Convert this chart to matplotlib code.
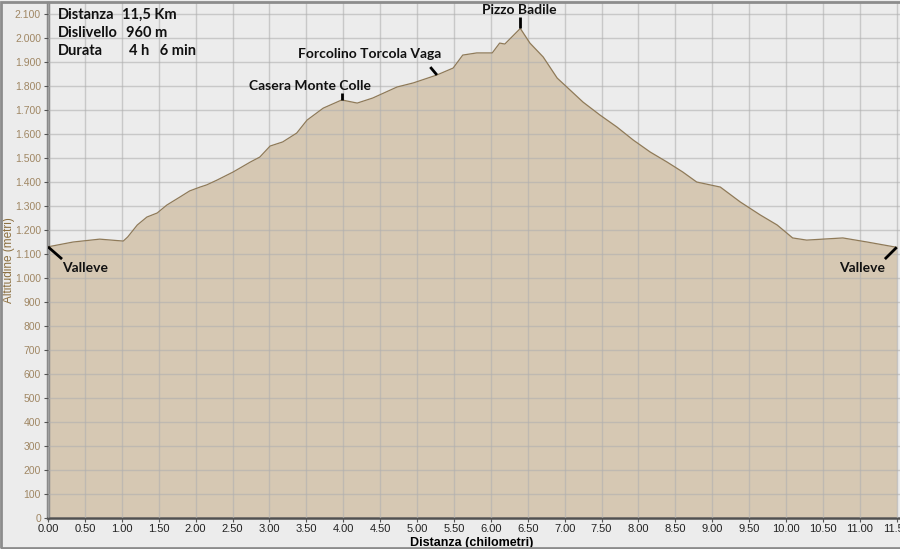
import numpy as np
import matplotlib
matplotlib.use("Agg")
import matplotlib.pyplot as plt
from matplotlib.ticker import FuncFormatter, MultipleLocator
from matplotlib.patches import Rectangle

# profile: distance (km) / altitude (m)
dist = [0.00, 0.34, 0.70, 1.02, 1.08, 1.21, 1.34, 1.48, 1.61, 1.79, 1.92, 2.06, 2.15,
        2.29, 2.51, 2.74, 2.87, 3.01, 3.18, 3.37, 3.51, 3.73, 3.98, 4.19, 4.40, 4.73,
        4.95, 5.27, 5.49, 5.62, 5.81, 6.02, 6.12, 6.19, 6.40, 6.53, 6.71, 6.90, 7.03,
        7.25, 7.48, 7.71, 7.93, 8.16, 8.39, 8.60, 8.79, 9.11, 9.38, 9.65, 9.88, 10.09,
        10.28, 10.77, 11.10, 11.50]
alt = [1130, 1150, 1162, 1154, 1171, 1221, 1254, 1271, 1304, 1338, 1363, 1379, 1388,
       1408, 1442, 1483, 1504, 1550, 1567, 1604, 1658, 1708, 1742, 1729, 1750, 1796,
       1813, 1846, 1875, 1929, 1938, 1938, 1979, 1975, 2040, 1979, 1921, 1833, 1796,
       1733, 1679, 1629, 1575, 1525, 1483, 1442, 1400, 1379, 1317, 1263, 1221, 1167,
       1158, 1167, 1150, 1128]

# landmarks: name, km, text position (km, m), leader start (km, m), alignment
places = ["Casera Monte Colle", "Forcolino Torcola Vaga", "Pizzo Badile", "Valleve", "Valleve"]
place_km = [3.98, 5.27, 6.40, 0.0, 11.5]
text_pos = [(3.55, 1800), (4.36, 1933), (6.385, 2117), (0.19, 1042), (11.34, 1042)]
lead_pos = [(3.98, 1771), (5.18, 1879), (6.40, 2088), (0.19, 1079), (11.34, 1079)]
text_ha = ["center", "center", "center", "left", "right"]

info_labels = ["Distanza", "Dislivello", "Durata"]
info_values = ["11,5 Km", "960 m", "4 h   6 min"]

W, H = 900, 549
fig = plt.figure(figsize=(W / 100, H / 100), dpi=100, facecolor="#ececec")
ax = fig.add_axes([48 / W, 31 / H, 852 / W, 515 / H])
ax.set_facecolor("#ececec")

ax.fill_between(dist, alt, 0, color="#d6c8b3", zorder=1, lw=0)
ax.plot(dist, alt, color="#8f7a58", lw=0.9, zorder=3)

ax.set_xlim(0, 852 / 73.8)
ax.set_ylim(0, 2146)
ax.xaxis.set_major_locator(MultipleLocator(0.5))
ax.yaxis.set_major_locator(MultipleLocator(100))
ax.xaxis.set_major_formatter(FuncFormatter(lambda v, p: f"{v:.2f}"))
ax.yaxis.set_major_formatter(FuncFormatter(lambda v, p: f"{int(v):,}".replace(",", ".")))
ax.grid(True, color="#b0b0b0", lw=1.0, alpha=0.6, zorder=2)
ax.set_axisbelow(False)

for s in ["top", "right"]:
    ax.spines[s].set_visible(False)
ax.spines["left"].set_color("#8a8a8a")
ax.spines["left"].set_linewidth(2.5)
ax.spines["bottom"].set_color("#505050")
ax.spines["bottom"].set_linewidth(1.8)

ax.tick_params(axis="y", colors="#555555", labelcolor="#a08764", labelsize=7.5, length=3, pad=2)
ax.tick_params(axis="x", colors="#555555", labelcolor="#222222", labelsize=8, length=3, pad=1)
for lab in ax.get_xticklabels() + ax.get_yticklabels():
    lab.set_family("Liberation Sans")

ax.set_xlabel("Distanza (chilometri)", fontsize=9, fontweight="bold", family="Liberation Sans", labelpad=0)
ax.xaxis.set_label_coords((472 - 48) / 852, -19 / 515)
ax.set_ylabel("Altitudine (metri)", fontsize=8.5, color="#8c7040",
              family="Liberation Sans", va="center")
ax.yaxis.set_label_coords((9 - 48) / 852, 0.5)

# landmark labels with leader lines
alt_at = np.interp(place_km, dist, alt)
for name, km, a, tp, lp, ha in zip(places, place_km, alt_at, text_pos, lead_pos, text_ha):
    ax.plot([lp[0], km], [lp[1], a], color="black", lw=2, zorder=5, solid_capstyle="butt")
    ax.text(tp[0], tp[1], name, ha=ha, va="center", fontsize=10, fontweight="bold",
            family="Lato", color="#111111", zorder=6)

# summary box text
val_x = [122, 126, 129]
for i, (lab, val) in enumerate(zip(info_labels, info_values)):
    y = 1 - (15 + 18 * i) / H
    fig.text(58 / W, y, lab, ha="left", va="center", fontsize=10.5, fontweight="bold",
             family="Lato", color="#111111")
    fig.text(val_x[i] / W, y, val, ha="left", va="center", fontsize=10.5,
             fontweight="bold", family="Lato", color="#111111")

fig.patches.append(Rectangle((1 / W, 1 / H), 1.2, (H - 3) / H, transform=fig.transFigure,
                             fill=False, edgecolor="#8c8c8c", lw=2))

fig.savefig("out.png", dpi=100, facecolor=fig.get_facecolor())
